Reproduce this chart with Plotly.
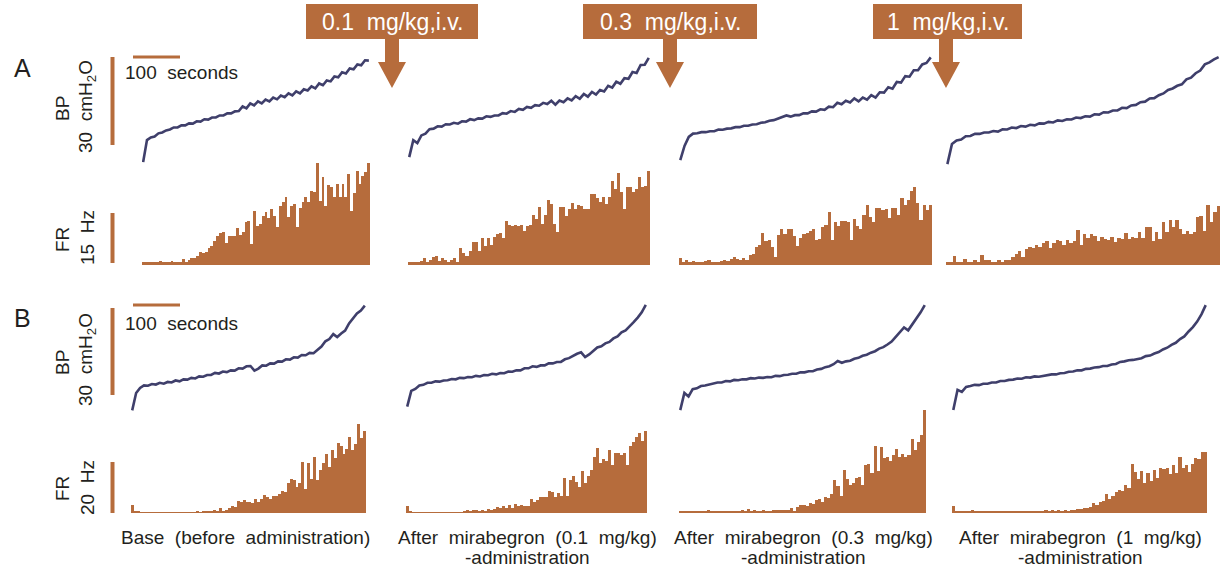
import numpy as np
import plotly.graph_objects as go

W, H = 1221, 567
ORANGE = "#B66C3C"
NAVY = "#3F3F6B"
TEXT = "#231F20"
FONT = "Liberation Sans, Arial, sans-serif"

# ---------------- data ----------------
# Bladder pressure traces (cmH2O, relative), one list per panel
bpA1 = [2.7, 10.2, 11.1, 11.4, 12.5, 12.8, 13.5, 13.8, 14.5, 14.5, 15.2, 15.2, 15.9, 15.8, 16.6, 16.5, 17.3, 17.2, 17.9, 17.9,
        18.6, 18.6, 19.3, 19.3, 20.0, 20.1, 21.7, 21.0, 22.7, 22.0, 23.4, 22.7, 24.0, 23.4, 24.7, 24.1, 25.4, 24.8, 26.1, 25.4,
        26.8, 26.1, 27.5, 27.1, 28.5, 27.8, 29.5, 28.9, 30.5, 30.2, 31.9, 31.6, 33.3, 32.9, 34.6, 34.3, 36.0, 35.7, 37.4, 37.3]
bpA2 = [4.4, 10.2, 9.2, 11.8, 12.4, 13.9, 14.1, 14.9, 14.8, 15.6, 15.5, 16.1, 15.8, 16.6, 16.5, 17.3, 17.0, 17.6, 17.5, 18.3,
        18.1, 18.6, 18.6, 19.4, 19.2, 20.1, 19.8, 20.8, 20.5, 21.5, 21.2, 22.1, 21.9, 22.9, 22.5, 23.6, 22.3, 23.7, 23.1, 24.4,
        23.7, 25.2, 24.3, 25.9, 25.0, 26.6, 25.7, 27.3, 26.8, 28.7, 28.1, 30.1, 29.4, 31.3, 31.1, 33.4, 33.1, 35.8, 35.9, 38.2]
bpA3 = [3.4, 8.2, 11.3, 12.4, 12.5, 12.9, 12.9, 13.2, 13.2, 13.8, 13.7, 14.1, 14.2, 14.6, 14.6, 15.1, 15.1, 15.5, 15.6, 16.1,
        16.3, 16.8, 17.0, 17.5, 18.0, 18.6, 18.2, 18.7, 18.7, 19.3, 19.3, 20.0, 19.9, 20.7, 20.5, 21.6, 21.4, 22.9, 22.4, 23.6,
        23.0, 24.4, 23.4, 24.7, 24.0, 25.5, 24.7, 26.5, 26.4, 28.2, 27.7, 30.0, 29.8, 32.0, 31.8, 34.0, 34.0, 36.0, 36.5, 38.4]
bpA4 = [2.0, 8.9, 10.1, 10.4, 11.5, 11.6, 12.3, 12.3, 12.8, 12.8, 13.3, 13.1, 13.9, 13.8, 14.5, 14.3, 15.0, 14.8, 15.4, 15.2,
        15.9, 15.8, 16.4, 16.2, 16.9, 16.7, 17.3, 17.2, 17.9, 17.7, 18.3, 18.2, 19.0, 18.9, 19.7, 19.6, 20.3, 20.3, 21.2, 21.1,
        22.0, 22.2, 23.1, 23.3, 24.4, 24.5, 25.5, 26.1, 27.3, 27.8, 28.7, 29.2, 30.9, 31.5, 33.0, 33.9, 36.0, 36.7, 37.7, 38.5]
bpB1 = [1.6, 7.6, 9.3, 10.2, 10.1, 10.7, 10.5, 11.1, 10.8, 11.4, 11.2, 11.9, 11.6, 12.3, 12.2, 12.8, 12.6, 13.3, 13.2, 13.8,
        13.8, 14.5, 14.3, 15.0, 14.8, 15.4, 15.3, 16.1, 16.0, 16.8, 16.9, 15.3, 16.0, 17.1, 17.0, 17.8, 17.7, 18.5, 18.4, 19.2,
        19.1, 19.9, 19.8, 20.7, 20.6, 21.4, 21.3, 22.4, 23.6, 25.4, 26.2, 27.9, 26.9, 28.1, 29.1, 31.6, 33.2, 35.0, 36.0, 37.7]
bpB2 = [2.9, 8.3, 9.0, 10.2, 10.4, 11.1, 11.1, 11.6, 11.5, 11.9, 12.0, 12.4, 12.3, 12.8, 12.7, 13.1, 13.0, 13.5, 13.3, 13.8,
        13.7, 14.2, 14.0, 14.5, 14.4, 15.0, 14.9, 15.4, 15.4, 16.1, 16.1, 16.8, 16.6, 17.1, 17.1, 17.8, 17.8, 18.3, 18.3, 19.2,
        19.6, 20.5, 21.1, 21.6, 20.0, 20.9, 22.0, 23.3, 23.7, 24.7, 25.2, 26.4, 27.1, 28.5, 29.2, 30.5, 32.0, 33.6, 35.4, 38.0]
bpB3 = [1.7, 7.6, 6.4, 8.9, 9.2, 10.0, 10.2, 10.6, 10.8, 11.2, 11.2, 11.7, 11.6, 12.1, 12.0, 12.3, 12.3, 12.7, 12.6, 12.9,
        12.8, 13.1, 13.0, 13.5, 13.4, 13.8, 13.9, 14.2, 14.2, 14.7, 14.7, 15.1, 15.1, 15.7, 15.9, 16.5, 16.8, 17.5, 18.6, 18.0,
        18.5, 18.7, 19.4, 19.7, 20.4, 20.8, 21.5, 22.0, 22.9, 23.4, 24.3, 25.3, 26.9, 28.4, 30.2, 29.2, 31.3, 33.1, 35.4, 37.9]
bpB4 = [1.7, 8.7, 8.0, 9.7, 10.0, 10.4, 10.3, 10.8, 10.8, 11.2, 11.2, 11.7, 11.7, 12.1, 12.2, 12.6, 12.5, 13.0, 12.9, 13.3,
        13.2, 13.5, 13.6, 14.0, 14.0, 14.4, 14.5, 14.9, 15.0, 15.4, 15.4, 15.9, 16.0, 16.4, 16.5, 16.9, 16.9, 17.4, 17.6, 18.3,
        18.5, 18.9, 19.0, 19.4, 19.6, 20.3, 20.5, 21.2, 21.7, 22.6, 23.2, 24.2, 24.9, 26.2, 27.1, 28.8, 30.3, 32.2, 34.7, 37.9]

# Firing-rate histograms (Hz), one list per panel
frA1 = [0.8, 0.8, 0.8, 0.8, 0.8, 0.8, 1.2, 0.8, 0.8, 1.0, 1.2, 1.0, 1.0, 1.0, 1.8, 0.8, 1.6, 2.0, 2.2, 2.8,
        3.8, 3.6, 4.0, 5.0, 5.8, 7.3, 8.8, 9.6, 10.0, 6.6, 8.6, 8.8, 8.6, 11.0, 9.0, 10.0, 12.8, 13.2, 6.3, 16.3,
        11.6, 12.3, 14.8, 15.8, 14.0, 16.8, 14.8, 11.3, 17.8, 18.8, 20.3, 14.3, 17.8, 18.3, 11.3, 17.0, 18.8, 20.3, 18.8, 22.3,
        21.8, 30.6, 19.3, 26.3, 17.8, 24.0, 23.3, 20.3, 24.3, 20.3, 24.3, 20.3, 27.3, 16.3, 21.6, 28.3, 24.3, 26.8, 28.0, 30.6]
frA2 = [0.8, 0.8, 1.0, 0.8, 1.2, 2.0, 1.0, 1.6, 2.3, 2.8, 1.3, 2.0, 1.6, 1.0, 1.6, 2.0, 1.0, 5.0, 3.6, 2.8,
        4.3, 7.0, 7.0, 4.3, 8.0, 5.8, 8.0, 6.0, 8.3, 9.2, 9.6, 8.0, 13.3, 12.0, 11.8, 12.0, 11.6, 12.0, 10.3, 11.8,
        12.0, 15.0, 13.8, 17.3, 12.3, 15.0, 19.6, 18.3, 12.3, 10.0, 17.3, 17.3, 14.6, 16.8, 18.6, 16.8, 18.0, 17.8, 16.8, 16.8,
        21.3, 21.3, 20.0, 18.8, 20.3, 18.3, 20.3, 25.3, 22.8, 27.6, 21.8, 16.8, 23.3, 23.3, 21.8, 22.8, 26.3, 23.3, 23.8, 28.3]
frA3 = [2.2, 0.8, 1.4, 0.8, 1.1, 0.8, 1.0, 0.8, 1.1, 1.6, 1.0, 1.0, 0.8, 1.1, 1.6, 1.1, 1.9, 2.4, 1.9, 1.4,
        2.2, 1.4, 2.9, 3.4, 5.3, 6.1, 9.7, 7.1, 7.6, 5.3, 2.4, 8.9, 10.8, 9.2, 10.8, 10.8, 8.7, 5.7, 8.2, 9.2,
        9.5, 10.2, 10.8, 7.6, 7.8, 11.3, 12.0, 16.0, 7.6, 12.9, 11.8, 13.1, 13.1, 12.9, 7.6, 13.9, 11.8, 10.8, 14.9, 18.1,
        14.4, 12.9, 17.0, 17.0, 16.5, 16.8, 14.1, 17.0, 17.2, 14.9, 20.2, 18.1, 19.6, 22.3, 23.3, 18.6, 13.4, 18.1, 16.5, 18.1]
frA4 = [1.0, 0.8, 2.6, 1.0, 0.8, 1.9, 1.0, 0.8, 1.4, 1.0, 2.9, 1.4, 1.4, 0.8, 0.8, 1.4, 1.0, 1.4, 1.6, 2.4,
        3.4, 4.3, 2.4, 4.7, 5.3, 5.0, 6.1, 5.3, 6.6, 7.1, 5.0, 6.6, 7.6, 7.1, 6.1, 7.6, 6.6, 7.1, 10.6, 6.1,
        9.2, 8.2, 9.2, 8.7, 7.1, 8.4, 7.8, 7.4, 8.4, 6.8, 8.2, 7.8, 9.5, 7.8, 8.4, 8.2, 9.8, 8.2, 11.3, 11.3,
        7.1, 9.8, 7.8, 12.9, 9.8, 13.4, 11.3, 13.4, 10.8, 9.2, 10.2, 9.2, 9.9, 14.4, 14.7, 10.2, 18.1, 12.9, 16.0, 17.6]
frB1 = [3.0, 0.5, 0.8, 0.3, 0.3, 0.3, 0.3, 0.3, 0.3, 0.3, 0.3, 0.3, 0.3, 0.3, 0.3, 0.3, 0.3, 0.3, 0.3, 0.3,
        0.3, 0.3, 0.9, 0.3, 0.7, 0.4, 0.7, 0.8, 1.1, 0.4, 2.0, 0.8, 1.3, 2.1, 2.9, 2.4, 4.6, 4.3, 5.0, 4.5,
        4.2, 3.9, 5.5, 4.5, 5.5, 7.0, 6.3, 5.3, 6.6, 6.8, 7.4, 8.7, 8.2, 11.8, 13.2, 12.9, 10.3, 11.6, 20.1, 9.6,
        19.5, 13.2, 21.8, 12.9, 16.8, 19.7, 23.2, 18.2, 24.7, 21.4, 27.4, 26.1, 23.2, 25.0, 30.0, 24.7, 27.1, 35.0, 29.3, 32.0]
frB2 = [2.6, 0.5, 0.3, 0.3, 0.3, 0.3, 0.3, 0.3, 0.3, 0.3, 0.3, 0.3, 0.3, 0.3, 0.3, 0.3, 0.3, 0.3, 0.3, 0.6,
        1.3, 0.4, 1.1, 1.3, 0.8, 1.3, 0.7, 1.6, 1.1, 1.7, 2.4, 2.1, 2.6, 2.1, 3.0, 2.1, 3.4, 2.6, 3.0, 2.9,
        2.6, 5.3, 4.3, 5.0, 6.1, 6.3, 6.1, 8.7, 8.3, 6.3, 7.9, 6.8, 13.6, 6.6, 12.9, 14.5, 12.2, 10.3, 16.6, 11.6,
        14.5, 16.8, 22.1, 25.4, 19.7, 21.1, 20.3, 24.7, 18.8, 23.7, 23.4, 22.8, 23.7, 18.8, 26.1, 28.0, 29.7, 31.3, 28.4, 32.0]
frB3 = [0.4, 0.4, 0.4, 0.4, 0.4, 0.4, 0.4, 0.4, 0.4, 1.3, 0.4, 0.4, 0.4, 0.4, 0.9, 0.4, 0.4, 0.9, 0.6, 0.9,
        1.3, 0.6, 1.7, 0.6, 1.3, 0.9, 0.9, 1.3, 0.6, 0.6, 1.2, 1.2, 1.2, 1.2, 1.2, 1.2, 1.9, 0.4, 2.2, 3.0,
        3.0, 2.6, 3.9, 3.5, 5.2, 5.6, 4.5, 6.1, 5.8, 7.4, 13.0, 10.4, 6.5, 16.9, 13.4, 11.0, 11.7, 13.9, 14.3, 11.0,
        18.8, 19.1, 15.6, 26.4, 16.5, 26.0, 21.4, 22.1, 20.4, 22.7, 25.1, 22.1, 23.0, 22.1, 22.7, 29.2, 24.7, 27.7, 30.5, 40.3]
frB4 = [2.6, 0.4, 0.4, 0.4, 0.4, 0.4, 1.3, 0.4, 0.4, 0.4, 0.4, 0.4, 0.4, 0.4, 0.4, 0.4, 0.4, 0.4, 0.9, 0.9,
        0.4, 0.9, 0.9, 0.6, 0.6, 0.9, 0.9, 0.9, 0.9, 1.2, 0.9, 1.2, 0.9, 1.2, 0.9, 1.2, 0.9, 1.2, 1.2, 1.4,
        1.7, 1.9, 1.9, 2.2, 3.9, 3.0, 4.5, 4.8, 7.4, 5.6, 6.5, 8.2, 9.1, 8.7, 10.8, 9.7, 19.1, 16.2, 13.4, 16.5,
        11.7, 15.6, 12.7, 16.9, 13.6, 17.5, 17.3, 17.5, 15.2, 18.8, 15.6, 22.1, 17.5, 18.8, 16.2, 19.1, 21.4, 21.2, 24.0, 24.0]

col_labels = ["Base  (before  administration)",
              "After  mirabegron  (0.1  mg/kg)<br>-administration",
              "After  mirabegron  (0.3  mg/kg)<br>-administration",
              "After  mirabegron  (1  mg/kg)<br>-administration"]
dose_labels = ["0.1  mg/kg,i.v.", "0.3  mg/kg,i.v.", "1  mg/kg,i.v."]
bp_scale_val = 30   # cmH2O
fr_scale_vals = {"A": 15, "B": 20}  # Hz

# ---------------- layout helpers ----------------
def fx(p):
    return p / W

def fy(p):
    return 1 - p / H

def axname(kind, n):
    return kind + ("" if n == 1 else str(n))

rows = {
    "A": dict(bp="y", fr="y2", bp_dom=(50, 170), fr_dom=(150, 265), bp_ppu=88 / 30, fr_ppu=50 / 15,
              bar_bottom=145, fr_bar_bottom=263, tbar_y=57, text_y=73, letter_y=68,
              bp_lab=108, bp_num=107, fr_lab=239, fr_num=238),
    "B": dict(bp="y3", fr="y4", bp_dom=(295, 415), fr_dom=(405, 513), bp_ppu=87 / 30, fr_ppu=51 / 20,
              bar_bottom=395, fr_bar_bottom=513, tbar_y=305, text_y=323, letter_y=318,
              bp_lab=362, bp_num=360, fr_lab=488, fr_num=488),
}

panels = [
    ("A", bpA1, frA1, 142, 370), ("A", bpA2, frA2, 408, 650),
    ("A", bpA3, frA3, 679, 932), ("A", bpA4, frA4, 946, 1220),
    ("B", bpB1, frB1, 131, 366), ("B", bpB2, frB2, 406, 647),
    ("B", bpB3, frB3, 679, 926), ("B", bpB4, frB4, 952, 1207),
]

layout = dict(width=W, height=H, margin=dict(l=0, r=0, t=0, b=0, pad=0),
              paper_bgcolor="white", plot_bgcolor="rgba(0,0,0,0)",
              showlegend=False, bargap=0, font=dict(family=FONT, color=TEXT))

yidx = {"A": (1, 2), "B": (3, 4)}
for r, cfg in rows.items():
    ib, ifr = yidx[r]
    b0, b1 = cfg["bp_dom"]
    f0, f1 = cfg["fr_dom"]
    layout[axname("yaxis", ib)] = dict(domain=[fy(b1), fy(b0)], range=[0, (b1 - b0) / cfg["bp_ppu"]],
                                       visible=False, fixedrange=True, anchor="x")
    layout[axname("yaxis", ifr)] = dict(domain=[fy(f1), fy(f0)], range=[0, (f1 - f0) / cfg["fr_ppu"]],
                                        visible=False, fixedrange=True, anchor="x")

traces = []
for k, (r, bp, fr, x0, x1) in enumerate(panels):
    cfg = rows[r]
    nb, nf = 2 * k + 1, 2 * k + 2
    layout[axname("xaxis", nb)] = dict(domain=[fx(x0), fx(x1)], range=[-0.3, len(bp) - 0.7],
                                       visible=False, fixedrange=True, anchor=cfg["bp"])
    layout[axname("xaxis", nf)] = dict(domain=[fx(x0), fx(x1)], range=[-0.5, len(fr) - 0.5],
                                       visible=False, fixedrange=True, anchor=cfg["fr"])
    traces.append(go.Scatter(x=np.arange(len(bp)), y=bp, mode="lines",
                             line=dict(color=NAVY, width=2.6), xaxis=axname("x", nb), yaxis=cfg["bp"],
                             hoverinfo="skip"))
    traces.append(go.Bar(x=np.arange(len(fr)), y=fr, width=1.0, marker=dict(color=ORANGE, line=dict(width=0)),
                         xaxis=axname("x", nf), yaxis=cfg["fr"], hoverinfo="skip"))

shapes = []
annotations = []

def ann(text, x, y, size=19, angle=0, color=TEXT):
    annotations.append(dict(text=text, x=fx(x), y=fy(y), xref="paper", yref="paper",
                            xanchor="center", yanchor="middle", showarrow=False, textangle=angle,
                            borderpad=0, font=dict(size=size, color=color, family=FONT)))

for r, cfg in rows.items():
    bp_base = (cfg["bp_dom"][1] - cfg["bar_bottom"]) / cfg["bp_ppu"]
    shapes.append(dict(type="line", xref="paper", yref=cfg["bp"], x0=fx(112.5), x1=fx(112.5),
                       y0=bp_base, y1=bp_base + bp_scale_val, line=dict(color=ORANGE, width=4)))
    fr_base = (cfg["fr_dom"][1] - cfg["fr_bar_bottom"]) / cfg["fr_ppu"]
    shapes.append(dict(type="line", xref="paper", yref=cfg["fr"], x0=fx(112.5), x1=fx(112.5),
                       y0=fr_base, y1=fr_base + fr_scale_vals[r], line=dict(color=ORANGE, width=4)))
    shapes.append(dict(type="line", xref="paper", yref="paper", x0=fx(133), x1=fx(180),
                       y0=fy(cfg["tbar_y"]), y1=fy(cfg["tbar_y"]), line=dict(color=ORANGE, width=3)))
    ann(r, 22, cfg["letter_y"], size=25)
    ann("100  seconds", 181, cfg["text_y"])
    ann("BP", 62, cfg["bp_lab"], angle=-90)
    ann(f"{bp_scale_val}  cmH<sub>2</sub>O", 87, cfg["bp_num"], angle=-90)
    ann("FR", 62, cfg["fr_lab"], angle=-90)
    ann(f"{fr_scale_vals[r]}  Hz", 87, cfg["fr_num"], angle=-90)

for lab, cx in zip(col_labels, [245, 527, 803, 1080]):
    lines = lab.split("<br>")
    ann(lines[0], cx, 537)
    if len(lines) > 1:
        ann(lines[1], cx, 557)

boxes = [(306, 478, 392), (583, 757, 670), (873, 1022, 946)]
for lab, (bx0, bx1, c) in zip(dose_labels, boxes):
    shapes.append(dict(type="rect", xref="paper", yref="paper", x0=fx(bx0), x1=fx(bx1),
                       y0=fy(39), y1=fy(4), fillcolor=ORANGE, line=dict(width=0)))
    pts = [(c - 7, 38), (c + 7, 38), (c + 7, 62), (c + 14, 62), (c, 88), (c - 14, 62), (c - 7, 62)]
    path = "M " + " L ".join(f"{fx(px):.5f},{fy(py):.5f}" for px, py in pts) + " Z"
    shapes.append(dict(type="path", xref="paper", yref="paper", path=path, fillcolor=ORANGE,
                       line=dict(width=0)))
    ann(lab, (bx0 + bx1) / 2, 21.5, size=23, color="white")

layout["shapes"] = shapes
layout["annotations"] = annotations

fig = go.Figure(data=traces, layout=layout)
fig.write_html("out.html")
